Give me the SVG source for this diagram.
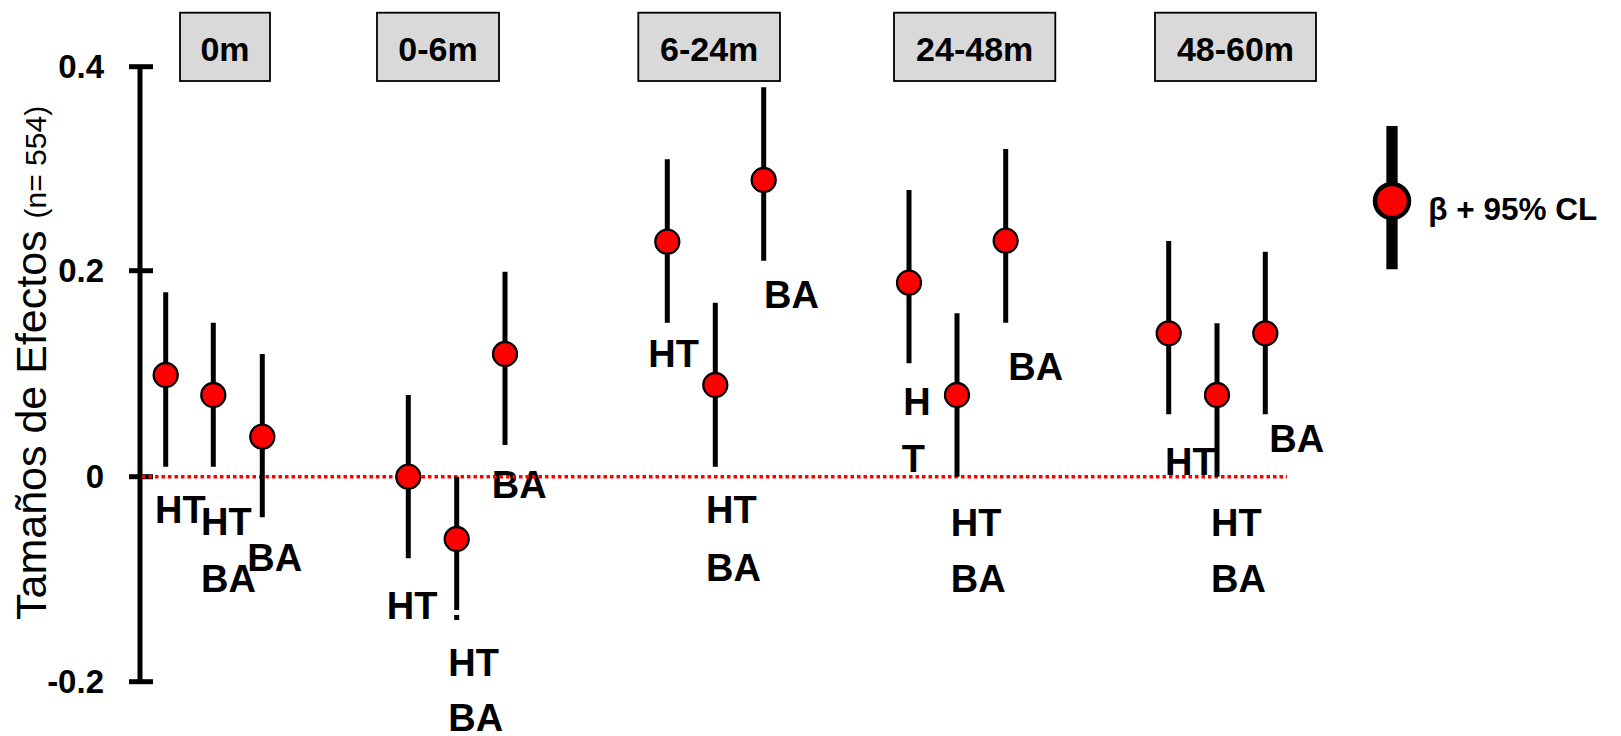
<svg xmlns="http://www.w3.org/2000/svg" width="1621" height="736" viewBox="0 0 1621 736">
<style>
.box{fill:#D9D9D9;stroke:#000;stroke-width:1.8}
.boxt{font-family:"Liberation Sans",Arial,sans-serif;font-weight:bold;font-size:34px;fill:#000;text-anchor:middle}
.tick{font-family:"Liberation Sans",Arial,sans-serif;font-weight:bold;font-size:33px;fill:#000;text-anchor:end}
.lab{font-family:"Liberation Sans",Arial,sans-serif;font-weight:bold;font-size:38px;fill:#000}
.ax{stroke:#000;stroke-width:5;fill:none}
.bar{stroke:#000;stroke-width:5;fill:none}
.pt{fill:#FF0000;stroke:#000;stroke-width:2.3}
.zero{stroke:#FF0000;stroke-width:3.5;stroke-dasharray:3.5 3;fill:none}
</style>
<rect width="1621" height="736" fill="#fff"/>
<g id="panels">
<g id="p0m"><rect class="box" x="180" y="12.7" width="90" height="68.3"/><text class="boxt" x="225" y="60.7">0m</text></g>
<g id="p0-6m"><rect class="box" x="377" y="12.7" width="122" height="68.3"/><text class="boxt" x="438" y="60.7">0-6m</text></g>
<g id="p6-24m"><rect class="box" x="638.3" y="12.7" width="141.7" height="68.3"/><text class="boxt" x="709.2" y="60.7">6-24m</text></g>
<g id="p24-48m"><rect class="box" x="894" y="12.7" width="161.3" height="68.3"/><text class="boxt" x="974.7" y="60.7">24-48m</text></g>
<g id="p48-60m"><rect class="box" x="1155" y="12.7" width="161" height="68.3"/><text class="boxt" x="1235.5" y="60.7">48-60m</text></g>
</g>
<g id="axis">
<line class="ax" x1="140" y1="66.7" x2="140" y2="681.7"/>
<line class="ax" x1="129" y1="66.7" x2="153" y2="66.7"/>
<line class="ax" x1="129" y1="270.7" x2="153" y2="270.7"/>
<line class="ax" x1="129" y1="476.7" x2="153" y2="476.7"/>
<line class="ax" x1="129" y1="681.7" x2="153" y2="681.7"/>
<text class="tick" x="104" y="78">0.4</text>
<text class="tick" x="104" y="282">0.2</text>
<text class="tick" x="104" y="488">0</text>
<text class="tick" x="104" y="693">-0.2</text>
<text transform="translate(45.5,620) rotate(-90)" font-family="Liberation Sans, Arial, sans-serif" font-size="43" fill="#000">Tamaños de Efectos <tspan font-size="30">(n= 554)</tspan></text>
</g>
<g id="labels">
<text class="lab" x="155" y="523.3">HT</text>
<text class="lab" x="201" y="535">HT</text>
<text class="lab" x="201" y="591.7">BA</text>
<text class="lab" x="247.3" y="570.7">BA</text>
<text class="lab" x="386.7" y="619.3">HT</text>
<text class="lab" x="448.3" y="676">HT</text>
<text class="lab" x="448.3" y="731">BA</text>
<text class="lab" x="491.7" y="498.3">BA</text>
<text class="lab" x="648.3" y="366.5">HT</text>
<text class="lab" x="764" y="308.3">BA</text>
<text class="lab" x="706" y="523.3">HT</text>
<text class="lab" x="706" y="580.7">BA</text>
<text class="lab" x="903.3" y="415">H</text>
<text class="lab" x="901.7" y="471.7">T</text>
<text class="lab" x="1008.3" y="380">BA</text>
<text class="lab" x="950.7" y="535.7">HT</text>
<text class="lab" x="950.7" y="592.3">BA</text>
<text class="lab" x="1165" y="475">HT</text>
<text class="lab" x="1269.3" y="451.7">BA</text>
<text class="lab" x="1211" y="535.7">HT</text>
<text class="lab" x="1211" y="592.3">BA</text>
</g>
<g id="connectors">
<line class="zero" x1="142" y1="476.7" x2="1287" y2="476.7"/>
</g>
<g id="points">
<g id="d1"><line class="bar" x1="165.7" y1="292.3" x2="165.7" y2="466.7"/><circle class="pt" cx="165.7" cy="375" r="12"/></g>
<g id="d2"><line class="bar" x1="213.3" y1="322.7" x2="213.3" y2="466.7"/><circle class="pt" cx="213.3" cy="395" r="12"/></g>
<g id="d3"><line class="bar" x1="262.3" y1="354" x2="262.3" y2="517.3"/><circle class="pt" cx="262.3" cy="436.7" r="12"/></g>
<g id="d4"><line class="bar" x1="408.3" y1="395" x2="408.3" y2="558.3"/><circle class="pt" cx="408.3" cy="476.7" r="12"/></g>
<g id="d5"><line class="bar" x1="456.7" y1="476.7" x2="456.7" y2="610"/><line class="bar" x1="456.7" y1="615" x2="456.7" y2="620"/><circle class="pt" cx="456.7" cy="539" r="12"/></g>
<g id="d6"><line class="bar" x1="505" y1="271.7" x2="505" y2="445"/><circle class="pt" cx="505" cy="354" r="12"/></g>
<g id="d7"><line class="bar" x1="667.3" y1="159.3" x2="667.3" y2="322.7"/><circle class="pt" cx="667.3" cy="241.7" r="12"/></g>
<g id="d8"><line class="bar" x1="715.3" y1="302.7" x2="715.3" y2="466.7"/><circle class="pt" cx="715.3" cy="385" r="12"/></g>
<g id="d9"><line class="bar" x1="763.7" y1="87.3" x2="763.7" y2="260.7"/><circle class="pt" cx="763.7" cy="180" r="12"/></g>
<g id="d10"><line class="bar" x1="909" y1="190" x2="909" y2="363.3"/><circle class="pt" cx="909" cy="282.7" r="12"/></g>
<g id="d11"><line class="bar" x1="957" y1="313.3" x2="957" y2="476.7"/><circle class="pt" cx="957" cy="395" r="12"/></g>
<g id="d12"><line class="bar" x1="1005.7" y1="149" x2="1005.7" y2="322.7"/><circle class="pt" cx="1005.7" cy="240.7" r="12"/></g>
<g id="d13"><line class="bar" x1="1168.7" y1="241" x2="1168.7" y2="414.3"/><circle class="pt" cx="1168.7" cy="333.3" r="12"/></g>
<g id="d14"><line class="bar" x1="1217" y1="323.3" x2="1217" y2="476.7"/><circle class="pt" cx="1217" cy="395" r="12"/></g>
<g id="d15"><line class="bar" x1="1265.3" y1="251.7" x2="1265.3" y2="414.3"/><circle class="pt" cx="1265.3" cy="333.3" r="12"/></g>
</g>
<g id="legend">
<line x1="1392" y1="126" x2="1392" y2="269.3" stroke="#000" stroke-width="11.3"/>
<circle cx="1392" cy="201" r="17" fill="#FF0000" stroke="#000" stroke-width="4.5"/>
<text x="1428.3" y="220" font-family="Liberation Sans, Arial, sans-serif" font-weight="bold" font-size="31.5" fill="#000">β + 95% CL</text>
</g>
</svg>
